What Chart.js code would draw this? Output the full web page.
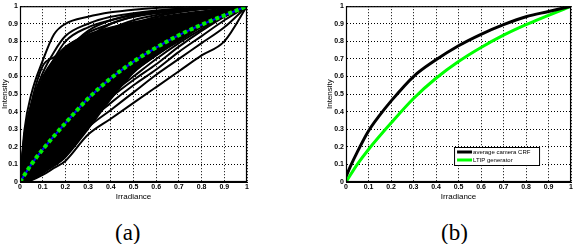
<!DOCTYPE html>
<html>
<head>
<meta charset="utf-8">
<script src="https://cdn.jsdelivr.net/npm/chart.js@4.4.1/dist/chart.umd.min.js"></script>
<style>
  body { margin: 0; background: #fff; width: 574px; height: 244px; overflow: hidden; position: relative; }
  canvas { position: absolute; }
  .cap { position: absolute; top: 220px; font-family: "Liberation Serif", "DejaVu Serif", serif; font-size: 23px; color: #000; }
</style>
</head>
<body>
<canvas id="chartA" width="252" height="205" style="left:0;top:0"></canvas>
<canvas id="chartB" width="249" height="205" style="left:325px;top:0"></canvas>
<div class="cap" style="left:115px">(a)</div>
<div class="cap" style="left:441px">(b)</div>
<script>
// tick labels shared by both panels
const tickLabels = ["0", "0.1", "0.2", "0.3", "0.4", "0.5", "0.6", "0.7", "0.8", "0.9", "1"];

// panel (a): irradiance grid for the sampled response curves
const irrA = [0, 0.02, 0.05, 0.1, 0.15, 0.2, 0.3, 0.4, 0.5, 0.6, 0.7, 0.8, 0.9, 1];

// dense core of the curve bundle (lower and upper edge)
const coreBottom = [0, 0.003, 0.025, 0.055, 0.09, 0.14, 0.3, 0.47, 0.62, 0.72, 0.8, 0.88, 0.94, 1];
const coreTop = [0, 0.28, 0.44, 0.6, 0.7, 0.77, 0.84, 0.88, 0.91, 0.935, 0.955, 0.972, 0.988, 1];

// individual curves below the core
const lowCurves = [
  [0, 0, 0.01, 0.04, 0.08, 0.12, 0.27, 0.36, 0.45, 0.54, 0.63, 0.72, 0.8, 1],
  [0, 0.001, 0.015, 0.05, 0.1, 0.16, 0.31, 0.41, 0.51, 0.61, 0.7, 0.79, 0.88, 1],
  [0, 0.002, 0.02, 0.06, 0.11, 0.18, 0.34, 0.45, 0.55, 0.64, 0.74, 0.83, 0.92, 1],
  [0, 0.003, 0.025, 0.07, 0.13, 0.2, 0.36, 0.48, 0.58, 0.67, 0.77, 0.86, 0.94, 1],
  [0, 0.005, 0.03, 0.08, 0.14, 0.21, 0.38, 0.5, 0.6, 0.7, 0.79, 0.87, 0.95, 1],
  [0, 0.01, 0.04, 0.1, 0.17, 0.24, 0.4, 0.52, 0.63, 0.72, 0.81, 0.89, 0.95, 1]
];

// individual curves above the core
const highCurves = [
  [0, 0.3, 0.5, 0.69, 0.84, 0.9, 0.94, 0.965, 0.98, 0.99, 0.995, 1, 1, 1],
  [0, 0.25, 0.45, 0.66, 0.71, 0.76, 0.85, 0.9, 0.94, 0.96, 0.975, 0.99, 0.995, 1],
  [0, 0.27, 0.44, 0.62, 0.74, 0.83, 0.9, 0.94, 0.96, 0.975, 0.985, 0.993, 0.998, 1],
  [0, 0.24, 0.4, 0.57, 0.7, 0.8, 0.88, 0.92, 0.95, 0.97, 0.982, 0.99, 0.996, 1],
  [0, 0.2, 0.35, 0.5, 0.62, 0.7, 0.82, 0.9, 0.94, 0.965, 0.98, 0.99, 0.996, 1],
  [0, 0.2, 0.33, 0.48, 0.6, 0.68, 0.79, 0.87, 0.92, 0.95, 0.97, 0.985, 0.995, 1],
  [0, 0.22, 0.38, 0.55, 0.66, 0.74, 0.86, 0.92, 0.955, 0.972, 0.985, 0.993, 0.998, 1],
  [0, 0.18, 0.3, 0.45, 0.56, 0.65, 0.77, 0.85, 0.9, 0.94, 0.965, 0.982, 0.993, 1]
];

// LTIP generator curve (same in both panels)
const irrL = [0, 0.05, 0.1, 0.2, 0.3, 0.4, 0.5, 0.6, 0.7, 0.8, 0.9, 1];
const ltip = [0, 0.1, 0.185, 0.335, 0.475, 0.59, 0.685, 0.765, 0.835, 0.895, 0.948, 1];

// panel (b): average camera response
const irrAvg = [0, 0.02, 0.05, 0.1, 0.15, 0.2, 0.3, 0.4, 0.5, 0.6, 0.7, 0.8, 0.9, 1];
const avgCrf = [0.03, 0.09, 0.17, 0.29, 0.38, 0.46, 0.6, 0.695, 0.775, 0.84, 0.895, 0.94, 0.97, 1];

const seriesNames = ["average camera CRF", "LTIP generator"];

function pts(xs, ys) {
  return xs.map((x, i) => ({ x: x, y: ys[i] }));
}

const tickFont = { family: "Liberation Sans, Arial, sans-serif", size: 7, weight: "bold" };
const titleFont = { family: "Liberation Sans, Arial, sans-serif", size: 8 };

function scales(yWidth) {
  return {
    x: {
      type: "linear",
      min: 0,
      max: 1,
      afterFit: (s) => { s.height = 20; },
      ticks: { stepSize: 0.1, color: "#000", font: tickFont, padding: 1, maxRotation: 0,
        callback: (v, i) => tickLabels[i] },
      grid: { color: "#000", lineWidth: 1, drawTicks: false },
      border: { display: true, color: "#000", width: 1, dash: [1, 2] },
      title: { display: true, text: "Irradiance", color: "#000", font: titleFont, padding: 0 }
    },
    y: {
      type: "linear",
      min: 0,
      max: 1,
      afterFit: (s) => { s.width = yWidth; },
      ticks: { stepSize: 0.1, color: "#000", font: tickFont, padding: 2,
        callback: (v, i) => tickLabels[i] },
      grid: { color: "#000", lineWidth: 1, drawTicks: false },
      border: { display: true, color: "#000", width: 1, dash: [1, 2] },
      title: { display: true, text: "Intensity", color: "#000", font: titleFont, padding: 0 }
    }
  };
}

// solid frame around the plot area, like the MATLAB axes box
const boxPlugin = {
  id: "box",
  afterDraw(chart) {
    const a = chart.chartArea;
    const ctx = chart.ctx;
    ctx.save();
    ctx.strokeStyle = "#000";
    ctx.lineWidth = 1.2;
    ctx.setLineDash([]);
    ctx.strokeRect(a.left + 0.5, a.top + 0.5, a.right - a.left - 1, a.bottom - a.top - 1);
    ctx.restore();
  }
};

// small legend box in the lower right of panel (b)
const legendPlugin = {
  id: "boxLegend",
  afterDraw(chart) {
    const a = chart.chartArea;
    const ctx = chart.ctx;
    const w = 85, h = 18;
    const x = a.right - 32 - w, y = a.bottom - 17 - h;
    ctx.save();
    ctx.fillStyle = "#fff";
    ctx.fillRect(x, y, w, h);
    ctx.strokeStyle = "#000";
    ctx.lineWidth = 1;
    ctx.strokeRect(x + 0.5, y + 0.5, w, h);
    ctx.font = "6px Liberation Sans, Arial, sans-serif";
    ctx.textBaseline = "middle";
    chart.data.datasets.forEach((ds, i) => {
      const ly = y + 5 + i * 8;
      ctx.strokeStyle = ds.borderColor;
      ctx.lineWidth = 3;
      ctx.beginPath();
      ctx.moveTo(x + 3, ly);
      ctx.lineTo(x + 18, ly);
      ctx.stroke();
      ctx.fillStyle = "#000";
      ctx.fillText(ds.label, x + 19, ly + 0.5);
    });
    ctx.restore();
  }
};

// ---- panel (a)  (higher order is drawn further back)
const dsA = [];
dsA.push({ data: pts(irrA, coreBottom), borderColor: "#000", borderWidth: 1.5, fill: false, order: 10 });
dsA.push({ data: pts(irrA, coreTop), borderColor: "#000", borderWidth: 1.5, backgroundColor: "#000", fill: "-1", order: 10 });
lowCurves.forEach((c) => dsA.push({ data: pts(irrA, c), borderColor: "#000", borderWidth: 2, fill: false, order: 5 }));
highCurves.forEach((c) => dsA.push({ data: pts(irrA, c), borderColor: "#000", borderWidth: 2, fill: false, order: 5 }));
dsA.push({ data: pts(irrL, ltip), borderColor: "#0000ff", borderWidth: 2, fill: false, order: 1 });
dsA.push({ data: pts(irrL, ltip), borderColor: "#00ee00", borderWidth: 4, borderDash: [4, 3], fill: false, order: 0 });

new Chart(document.getElementById("chartA"), {
  type: "line",
  data: { datasets: dsA },
  options: {
    responsive: false,
    animation: false,
    layout: { padding: { top: 3, right: 5, left: 0, bottom: 3 } },
    elements: { point: { radius: 0 }, line: { cubicInterpolationMode: "monotone" } },
    plugins: { legend: { display: false }, tooltip: { enabled: false } },
    scales: scales(20)
  },
  plugins: [boxPlugin]
});

// ---- panel (b)
new Chart(document.getElementById("chartB"), {
  type: "line",
  data: {
    datasets: [
      { label: seriesNames[0], data: pts(irrAvg, avgCrf), borderColor: "#000", borderWidth: 3, fill: false },
      { label: seriesNames[1], data: pts(irrL, ltip), borderColor: "#00ff00", borderWidth: 3, fill: false }
    ]
  },
  options: {
    responsive: false,
    animation: false,
    layout: { padding: { top: 3, right: 1, left: 0, bottom: 3 } },
    elements: { point: { radius: 0 }, line: { cubicInterpolationMode: "monotone" } },
    plugins: { legend: { display: false }, tooltip: { enabled: false } },
    scales: scales(21)
  },
  plugins: [boxPlugin, legendPlugin]
});
</script>
</body>
</html>
